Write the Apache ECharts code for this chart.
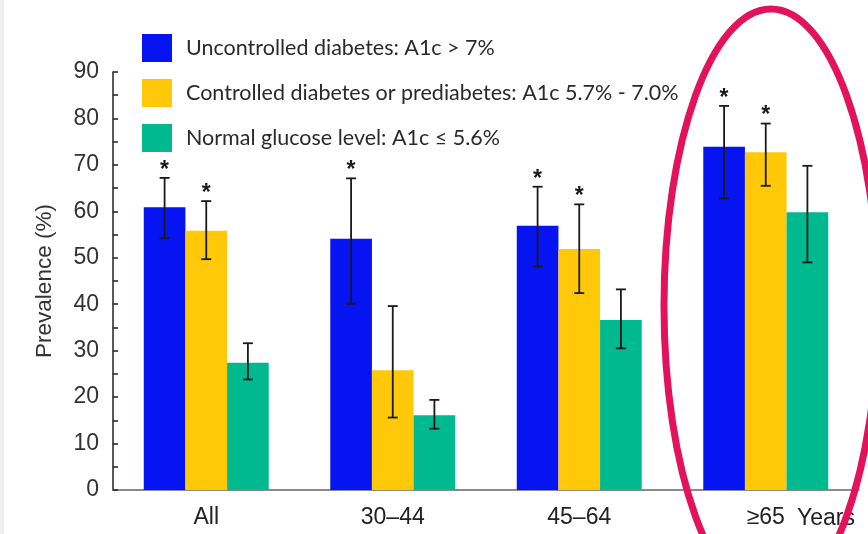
<!DOCTYPE html>
<html>
<head>
<meta charset="utf-8">
<script src="https://cdn.jsdelivr.net/npm/echarts@6/dist/echarts.min.js"></script>
<style>
  html, body { margin: 0; padding: 0; background: #ffffff; }
  #chart { width: 868px; height: 534px; }
</style>
</head>
<body>
<div id="chart"></div>
<script>
// Age groups
var categories = ['All', '30\u201344', '45\u201364', '\u226565'];

// Prevalence (%) by glycaemic status, with 95% CI bounds
var uncontrolled     = [60.9, 54.1, 56.9, 73.9];
var uncontrolledLow  = [54.2, 40.1, 48.1, 62.8];
var uncontrolledHigh = [67.2, 67.1, 65.3, 82.7];

var controlled     = [55.8, 25.8, 51.9, 72.7];
var controlledLow  = [49.7, 15.6, 42.4, 65.5];
var controlledHigh = [62.2, 39.6, 61.5, 78.9];

var normal     = [27.4, 16.1, 36.6, 59.8];
var normalLow  = [23.8, 13.2, 30.5, 49.0];
var normalHigh = [31.6, 19.4, 43.2, 69.8];

// Significance markers (1 = asterisk over the bar)
var uncontrolledSig = [1, 1, 1, 1];
var controlledSig   = [1, 0, 1, 1];
var normalSig       = [0, 0, 0, 0];

var seriesNames = [
  'Uncontrolled diabetes: A1c > 7%',
  'Controlled diabetes or prediabetes: A1c 5.7% - 7.0%',
  'Normal glucose level: A1c \u2264 5.6%'
];
var colors = ['#0614f2', '#ffc90a', '#00b98f'];

var BAR_CATEGORY_GAP = 0.33;
var LABEL_FONT = '"Liberation Sans", Arial, sans-serif';

function errorSeries(idx, low, high, sig) {
  var rows = low.map(function (l, i) { return [i, l, high[i], sig[i]]; });
  return {
    type: 'custom',
    name: seriesNames[idx] + ' CI',
    data: rows,
    z: 5,
    silent: true,
    encode: { x: 0, y: [1, 2] },
    renderItem: function (params, api) {
      var cat = api.value(0);
      var catW = api.size([1, 0])[0];
      var barW = catW * (1 - BAR_CATEGORY_GAP) / 3;
      var lowPt = api.coord([cat, api.value(1)]);
      var highPt = api.coord([cat, api.value(2)]);
      var x = lowPt[0] + (idx - 1) * barW;
      var cap = 5;
      var style = { stroke: '#1a1a1a', lineWidth: 1.8 };
      var children = [
        { type: 'line', shape: { x1: x, y1: lowPt[1], x2: x, y2: highPt[1] }, style: style },
        { type: 'line', shape: { x1: x - cap, y1: lowPt[1], x2: x + cap, y2: lowPt[1] }, style: style },
        { type: 'line', shape: { x1: x - cap, y1: highPt[1], x2: x + cap, y2: highPt[1] }, style: style }
      ];
      if (api.value(3)) {
        children.push({
          type: 'text',
          style: {
            text: '*', x: x, y: highPt[1] + 4,
            align: 'center', verticalAlign: 'bottom',
            font: 'bold 23px ' + LABEL_FONT, fill: '#1a1a1a'
          }
        });
      }
      return { type: 'group', children: children };
    }
  };
}

var chart = echarts.init(document.getElementById('chart'), null, { renderer: 'canvas' });

chart.setOption({
  backgroundColor: '#ffffff',
  animation: false,
  grid: { left: 113, right: 9, top: 72, bottom: 44, containLabel: false },
  legend: {
    orient: 'vertical',
    left: 142, top: 34,
    padding: 0,
    itemWidth: 30, itemHeight: 28, itemGap: 17,
    icon: 'rect',
    textStyle: {
      fontFamily: 'Lato, "Open Sans", sans-serif',
      fontSize: 21.5, color: '#2a2a2a',
      padding: [0, 0, 0, 9]
    },
    data: seriesNames
  },
  xAxis: {
    type: 'category',
    data: categories,
    axisLine: { lineStyle: { color: '#666666', width: 1.5 } },
    axisTick: { show: false },
    axisLabel: {
      color: '#222222', fontFamily: LABEL_FONT, fontSize: 23, margin: 16
    }
  },
  yAxis: {
    type: 'value',
    min: 0, max: 90, interval: 10,
    name: 'Prevalence (%)',
    nameLocation: 'middle',
    nameGap: 57,
    nameRotate: 90,
    nameTextStyle: { color: '#333333', fontFamily: LABEL_FONT, fontSize: 22.5 },
    axisLine: { show: true, lineStyle: { color: '#222222', width: 1.5 } },
    axisTick: { show: true, inside: true, length: 5, lineStyle: { color: '#222222', width: 1.5 } },
    minorTick: { show: true, splitNumber: 2, length: 5, lineStyle: { color: '#222222', width: 1.5 } },
    axisLabel: {
      color: '#333333', fontFamily: LABEL_FONT, fontSize: 23, margin: 14
    },
    splitLine: { show: false }
  },
  series: [
    { type: 'bar', name: seriesNames[0], data: uncontrolled, barGap: '0%', barCategoryGap: '33%', itemStyle: { color: colors[0] } },
    { type: 'bar', name: seriesNames[1], data: controlled, itemStyle: { color: colors[1] } },
    { type: 'bar', name: seriesNames[2], data: normal, itemStyle: { color: colors[2] } },
    errorSeries(0, uncontrolledLow, uncontrolledHigh, uncontrolledSig),
    errorSeries(1, controlledLow, controlledHigh, controlledSig),
    errorSeries(2, normalLow, normalHigh, normalSig)
  ],
  graphic: [
    // thin grey strip at the left edge of the figure
    { type: 'rect', left: 0, top: 0, shape: { width: 4, height: 534 }, style: { fill: '#eeeeee' }, z: 0 },
    // unit label beside the last age group
    {
      type: 'text', left: 797, top: 507,
      style: { text: 'Years', font: '23px ' + LABEL_FONT, fill: '#222222' }
    },
    // highlight ring around the oldest age group
    {
      type: 'ellipse',
      shape: { cx: 771, cy: 306, rx: 107, ry: 297 },
      style: { fill: 'none', stroke: '#e2135b', lineWidth: 7 },
      z: 100
    }
  ]
});
</script>
</body>
</html>
